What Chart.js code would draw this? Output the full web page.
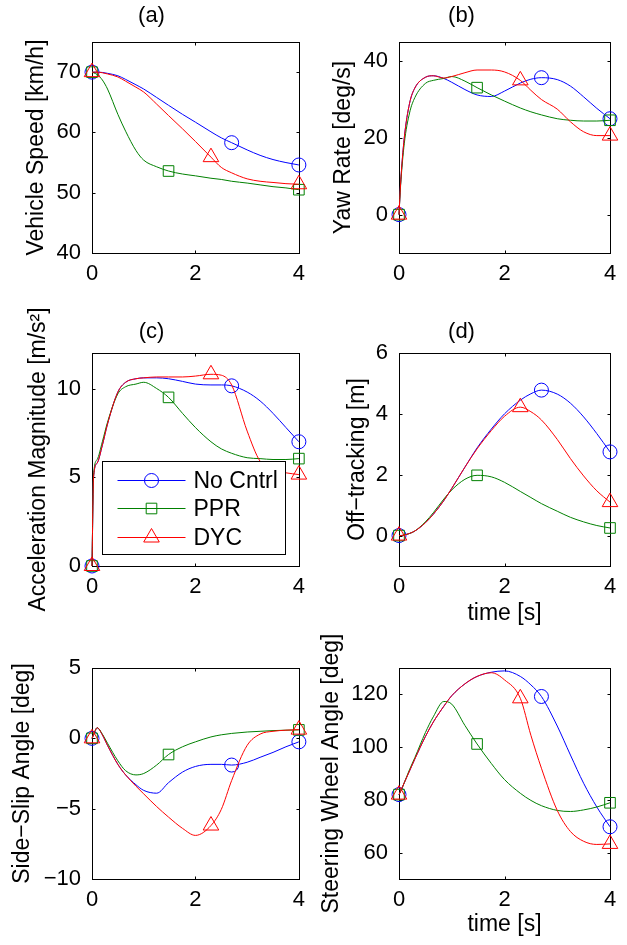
<!DOCTYPE html>
<html>
<head>
<meta charset="utf-8">
<script src="https://cdn.jsdelivr.net/npm/chart.js@4.4.0/dist/chart.umd.min.js"></script>
<style>
  html, body { margin: 0; padding: 0; background: #fff; }
  body { width: 627px; height: 945px; position: relative; overflow: hidden; }
  canvas { position: absolute; }
</style>
</head>
<body>
<canvas id="ca"></canvas>
<canvas id="cb"></canvas>
<canvas id="cc"></canvas>
<canvas id="cd"></canvas>
<canvas id="ce"></canvas>
<canvas id="cf"></canvas>
<script>
// sample times [s], shared by every curve
const time = [0, 0.03, 0.1, 0.2, 0.3, 0.5, 0.65, 0.85, 1, 1.25, 1.48, 1.75, 2, 2.3, 2.5, 2.7, 3, 3.25, 3.5, 3.75, 4];
const seriesNames = ['No Cntrl', 'PPR', 'DYC'];
const markerTimes = [2.7, 1.48, 2.3]; // middle marker of each series (plus first and last)
const xTicks = [0, 2, 4];

// (a) vehicle speed [km/h]
const speedNoCntrl = [70, 70, 70, 69.95, 69.8, 69.4, 68.8, 67.9, 67.2, 65.8, 64.5, 63.0, 61.7, 60.1, 59.1, 58.3, 57.1, 56.2, 55.5, 55.0, 54.6];
const speedPPR     = [70, 69.9, 69.6, 68.7, 67.2, 63.0, 60.2, 57.0, 55.4, 54.3, 53.6, 53.1, 52.8, 52.4, 52.2, 51.9, 51.6, 51.3, 51.0, 50.8, 50.5];
const speedDYC     = [70, 70, 70, 69.9, 69.7, 69.2, 68.5, 67.5, 66.7, 64.7, 62.8, 60.6, 58.5, 55.9, 54.2, 53.3, 52.3, 51.9, 51.7, 51.5, 51.4];
const speedTicks = [40, 50, 60, 70];

// (b) yaw rate [deg/s]
const yawNoCntrl = [0, 8, 20, 29, 33, 35.8, 36.2, 35.5, 34.5, 32.6, 31.2, 30.8, 32.2, 34.3, 35.3, 35.7, 35.2, 33.5, 30.7, 27.7, 25.0];
const yawPPR     = [0, 7.5, 18.5, 26.5, 30.5, 34.2, 35.0, 35.5, 36.0, 34.8, 33.1, 31.2, 29.6, 27.8, 26.8, 26.0, 25.0, 24.6, 24.4, 24.4, 24.6];
const yawDYC     = [0, 8, 20, 29, 33, 35.8, 36.2, 35.6, 36.0, 37.0, 37.7, 37.7, 37.2, 35.0, 32.4, 30.0, 27.5, 24.2, 21.6, 20.6, 20.6];
const yawTicks = [0, 20, 40];

// (c) acceleration magnitude [m/s^2]
const accNoCntrl = [0, 5.0, 5.8, 6.8, 8.0, 9.8, 10.35, 10.55, 10.6, 10.6, 10.55, 10.4, 10.25, 10.2, 10.2, 10.15, 9.8, 9.3, 8.6, 7.8, 7.0];
const accPPR     = [0, 5.1, 6.0, 7.0, 8.1, 9.7, 10.1, 10.25, 10.35, 10.0, 9.5, 8.6, 7.8, 7.0, 6.6, 6.35, 6.1, 6.05, 6.0, 6.0, 6.05];
const accDYC     = [0, 5.0, 5.8, 6.8, 8.0, 9.8, 10.35, 10.55, 10.6, 10.65, 10.65, 10.65, 10.7, 10.8, 10.75, 10.2, 7.6, 5.9, 5.4, 5.25, 5.15];
const accTicks = [0, 5, 10];

// (d) off-tracking [m]
const offNoCntrl = [0, 0, 0.02, 0.07, 0.15, 0.42, 0.7, 1.15, 1.55, 2.25, 2.88, 3.5, 4.0, 4.45, 4.66, 4.78, 4.65, 4.35, 3.9, 3.35, 2.75];
const offPPR     = [0, 0, 0.02, 0.07, 0.15, 0.45, 0.75, 1.2, 1.5, 1.85, 1.98, 1.93, 1.75, 1.45, 1.25, 1.05, 0.8, 0.6, 0.45, 0.33, 0.25];
const offDYC     = [0, 0, 0.02, 0.07, 0.15, 0.42, 0.7, 1.15, 1.55, 2.25, 2.85, 3.45, 3.92, 4.22, 4.07, 3.8, 3.16, 2.53, 1.96, 1.47, 1.1];
const offTicks = [0, 2, 4, 6];

// (e) side-slip angle [deg]
const slipNoCntrl = [0, 0.25, 0.75, 0.25, -0.5, -1.85, -2.6, -3.3, -3.7, -3.9, -3.15, -2.4, -2.0, -1.85, -1.85, -1.9, -1.7, -1.35, -1.0, -0.6, -0.25];
const slipPPR     = [0, 0.25, 0.75, 0.3, -0.35, -1.6, -2.3, -2.6, -2.5, -1.9, -1.15, -0.6, -0.25, 0.1, 0.25, 0.35, 0.45, 0.5, 0.55, 0.58, 0.6];
const slipDYC     = [0, 0.25, 0.75, 0.25, -0.5, -1.85, -2.6, -3.4, -3.95, -4.85, -5.6, -6.4, -6.9, -6.2, -5.05, -3.0, -0.5, 0.3, 0.5, 0.58, 0.62];
const slipTicks = [-10, -5, 0, 5];

// (f) steering wheel angle [deg]
const steerNoCntrl = [82, 83.2, 86.5, 91, 95.5, 104, 109.5, 115.5, 119.5, 124, 126.8, 128.4, 128.9, 126.8, 123.6, 119.2, 108, 97, 86.3, 77.3, 69.8];
const steerPPR     = [82, 83.2, 86.5, 91.5, 96, 105.5, 111.5, 117.3, 116.3, 108.2, 101.2, 93.8, 87.7, 82.5, 79.8, 77.8, 76, 75.6, 76.2, 77.3, 78.9];
const steerDYC     = [82, 83.2, 86.5, 91, 95.5, 104, 109.5, 115.5, 119.5, 124, 126.8, 128.2, 125.5, 118.5, 104.5, 92, 76, 68, 64.3, 63.1, 63.3];
const steerTicks = [60, 80, 100, 120];

const colors = ['#0000ff', '#008000', '#ff0000'];
const markers = ['circle', 'rect', 'triangle'];
const markerSize = [7, 7.5, 9];
const TICK = 3;

Chart.defaults.font.family = '"Liberation Sans", Arial, Helvetica, sans-serif';
Chart.defaults.color = '#000';

// box around the axes with inward ticks on all four sides
const frame = {
  id: 'frame',
  beforeDatasetsDraw(chart) {
    const { ctx, chartArea: a, scales } = chart;
    const L = Math.round(a.left) + 0.5, R = Math.round(a.right) + 0.5;
    const T = Math.round(a.top) + 0.5, B = Math.round(a.bottom) + 0.5;
    ctx.save();
    ctx.strokeStyle = '#000';
    ctx.lineWidth = 1;
    ctx.strokeRect(L, T, R - L, B - T);
    ctx.beginPath();
    scales.x.ticks.forEach(tk => {
      const px = Math.round(scales.x.getPixelForValue(tk.value)) + 0.5;
      ctx.moveTo(px, B); ctx.lineTo(px, B - TICK);
      ctx.moveTo(px, T); ctx.lineTo(px, T + TICK);
    });
    scales.y.ticks.forEach(tk => {
      const py = Math.round(scales.y.getPixelForValue(tk.value)) + 0.5;
      ctx.moveTo(L, py); ctx.lineTo(L + TICK, py);
      ctx.moveTo(R, py); ctx.lineTo(R - TICK, py);
    });
    ctx.stroke();
    ctx.restore();
  }
};

function drawMarker(ctx, style, x, y, r) {
  ctx.beginPath();
  if (style === 'circle') {
    ctx.arc(x, y, r, 0, Math.PI * 2);
  } else if (style === 'rect') {
    const s = r * Math.SQRT1_2;
    ctx.rect(x - s, y - s, 2 * s, 2 * s);
  } else {
    ctx.moveTo(x, y - r);
    ctx.lineTo(x + r * 0.866, y + r / 2);
    ctx.lineTo(x - r * 0.866, y + r / 2);
    ctx.closePath();
  }
  ctx.stroke();
}

// boxed legend like the one in panel (c)
const legendBox = {
  id: 'legendBox',
  afterDatasetsDraw(chart) {
    const { ctx, chartArea: a } = chart;
    const w = 183, h = 93;
    const x0 = Math.round(a.right - 14 - w) + 0.5, y0 = Math.round(a.bottom - 12 - h) + 0.5;
    ctx.save();
    ctx.fillStyle = '#fff';
    ctx.fillRect(x0, y0, w, h);
    ctx.strokeStyle = '#000';
    ctx.lineWidth = 1;
    ctx.strokeRect(x0, y0, w, h);
    const rows = [18, 46.5, 75];
    ctx.font = '23px "Liberation Sans", Arial, sans-serif';
    ctx.textBaseline = 'middle';
    ctx.textAlign = 'left';
    seriesNames.forEach((name, i) => {
      const yy = Math.round(y0 + rows[i]) + 0.5;
      ctx.strokeStyle = colors[i];
      ctx.beginPath();
      ctx.moveTo(x0 + 15, yy); ctx.lineTo(x0 + 83, yy);
      ctx.stroke();
      drawMarker(ctx, markers[i], x0 + 49, yy, markerSize[i]);
      ctx.fillStyle = '#000';
      ctx.fillText(name, x0 + 91, yy + 1);
    });
    ctx.restore();
  }
};

function dataset(i, values) {
  const mt = markerTimes[i];
  return {
    label: seriesNames[i],
    data: time.map((t, k) => ({ x: t, y: values[k] })),
    borderColor: colors[i],
    borderWidth: 1,
    pointStyle: markers[i],
    pointRadius: time.map(t => (t === 0 || t === 4 || t === mt) ? markerSize[i] : 0),
    pointHoverRadius: 0,
    pointBorderColor: colors[i],
    pointBackgroundColor: 'rgba(0,0,0,0)',
    pointBorderWidth: 1,
    cubicInterpolationMode: 'monotone',
    fill: false,
    clip: false,
    order: 3 - i
  };
}

// canvas box [left, top, width, height]; plot box edges relative to the canvas
const panels = [
  { id: 'ca', title: '(a)', ylabel: 'Vehicle Speed [km/h]', series: [speedNoCntrl, speedPPR, speedDYC], yMin: 40, yMax: 75, yTicks: speedTicks,
    box: [0, 0, 313, 290], plot: [92, 42, 303, 253], titlePad: [2.8, 12.8], ylabPad: 23.2, xlabel: null },
  { id: 'cb', title: '(b)', ylabel: 'Yaw Rate [deg/s]', series: [yawNoCntrl, yawPPR, yawDYC], yMin: -10, yMax: 45, yTicks: yawTicks,
    box: [313, 0, 314, 290], plot: [86, 42, 297, 253], titlePad: [2.8, 12.8], ylabPad: 17.2, xlabel: null },
  { id: 'cc', title: '(c)', ylabel: 'Acceleration Magnitude [m/s\u00B2]', series: [accNoCntrl, accPPR, accDYC], yMin: 0, yMax: 12, yTicks: accTicks,
    box: [0, 290, 313, 338], plot: [92, 63, 303, 276], titlePad: [28.5, 8.1], ylabPad: 24.5, xlabel: null, legend: true },
  { id: 'cd', title: '(d)', ylabel: 'Off\u2212tracking [m]', series: [offNoCntrl, offPPR, offDYC], yMin: -1, yMax: 6, yTicks: offTicks,
    box: [313, 290, 314, 338], plot: [86, 63, 297, 276], titlePad: [28.5, 8.1], ylabPad: 31.2, xlabel: 'time [s]', xlabPad: 0.9 },
  { id: 'ce', title: null, ylabel: 'Side\u2212Slip Angle [deg]', series: [slipNoCntrl, slipPPR, slipDYC], yMin: -10, yMax: 5, yTicks: slipTicks,
    box: [0, 628, 313, 317], plot: [92, 40, 303, 251], ylabPad: 9.2, xlabel: null },
  { id: 'cf', title: null, ylabel: 'Steering Wheel Angle [deg]', series: [steerNoCntrl, steerPPR, steerDYC], yMin: 50, yMax: 130, yTicks: steerTicks,
    box: [313, 628, 314, 317], plot: [86, 40, 297, 251], ylabPad: 4.7, xlabel: 'time [s]', xlabPad: 6.2 }
];

function makeChart(p) {
  const cv = document.getElementById(p.id);
  const [bx, by, bw, bh] = p.box;
  cv.width = bw; cv.height = bh;
  cv.style.left = bx + 'px'; cv.style.top = by + 'px';
  cv.style.width = bw + 'px'; cv.style.height = bh + 'px';
  const [pl, pt, pr, pb] = p.plot;
  const plugins = [frame];
  if (p.legend) plugins.push(legendBox);
  return new Chart(cv.getContext('2d'), {
    type: 'line',
    data: { datasets: p.series.map((v, i) => dataset(i, v)) },
    plugins: plugins,
    options: {
      responsive: false,
      animation: false,
      devicePixelRatio: 1,
      events: [],
      layout: { padding: { left: 0, right: bw - pr, top: p.title ? 0 : pt, bottom: 0 } },
      plugins: {
        legend: { display: false },
        tooltip: { enabled: false },
        title: p.title ? {
          display: true, text: p.title, color: '#000',
          font: { size: 22, weight: 'normal' },
          padding: { top: p.titlePad[0], bottom: p.titlePad[1] }
        } : { display: false }
      },
      scales: {
        x: {
          type: 'linear', min: 0, max: 4,
          afterBuildTicks: s => { s.ticks = xTicks.map(v => ({ value: v })); },
          afterFit: s => { s.height = bh - pb; },
          grid: { display: false, drawTicks: false },
          border: { display: false },
          ticks: { font: { size: 22 }, color: '#000', padding: 8, maxRotation: 0, autoSkip: false },
          title: p.xlabel ? { display: true, text: p.xlabel, color: '#000', font: { size: 23 }, padding: { top: 0, bottom: p.xlabPad } } : { display: false }
        },
        y: {
          type: 'linear', min: p.yMin, max: p.yMax,
          afterBuildTicks: s => { s.ticks = p.yTicks.map(v => ({ value: v })); },
          afterFit: s => { s.width = pl; },
          grid: { display: false, drawTicks: false },
          border: { display: false },
          ticks: { font: { size: 22 }, color: '#000', padding: 11, autoSkip: false,
                   callback: v => String(v).replace('-', '\u2212') },
          title: { display: true, text: p.ylabel, color: '#000', font: { size: 23 }, padding: { top: p.ylabPad, bottom: 0 } }
        }
      }
    }
  });
}

panels.forEach(makeChart);
</script>
</body>
</html>
